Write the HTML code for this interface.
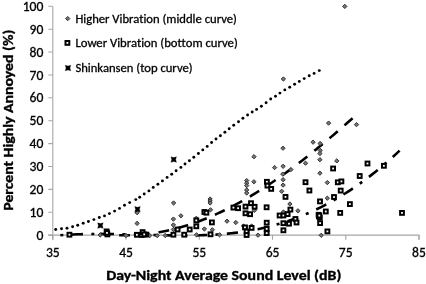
<!DOCTYPE html>
<html><head><meta charset="utf-8"><style>
html,body{margin:0;padding:0;background:#fff;}
svg{display:block;filter:blur(0.3px);}
text{font-family:Carlito, 'Liberation Sans', sans-serif;fill:#000;font-variant-ligatures:none;font-kerning:normal;}
.t{stroke:#000;stroke-width:0.3;}
.tb{stroke:#000;stroke-width:0.35;}
.d{fill:#757575;stroke:#333;stroke-width:1.0;}
.s{fill:#fff;stroke:#000;stroke-width:2.0;}
.k{fill:#000;stroke:#000;stroke-width:0.3;stroke-linejoin:round;}
.k2{fill:none;stroke:#000;stroke-width:1.0;}
</style></head><body>
<svg width="426" height="284" viewBox="0 0 426 284">
<path d="M52.8 6.3 V239.8 M48.3 235.1 H419 V239.8" stroke="#a6a6a6" stroke-width="1.1" fill="none"/>
<path d="M48.3 235.10 H52.8 M48.3 212.22 H52.8 M48.3 189.34 H52.8 M48.3 166.46 H52.8 M48.3 143.58 H52.8 M48.3 120.70 H52.8 M48.3 97.82 H52.8 M48.3 74.94 H52.8 M48.3 52.06 H52.8 M48.3 29.18 H52.8 M48.3 6.30 H52.8 M52.80 235.1 V239.8 M126.04 235.1 V239.8 M199.28 235.1 V239.8 M272.52 235.1 V239.8 M345.76 235.1 V239.8 M419.00 235.1 V239.8" stroke="#a6a6a6" stroke-width="1.1" fill="none"/>
<text class="t" x="43.3" y="239.70" text-anchor="end" font-size="13.6" textLength="6.89" lengthAdjust="spacingAndGlyphs">0</text>
<text class="t" x="43.3" y="216.82" text-anchor="end" font-size="13.6" textLength="13.78" lengthAdjust="spacingAndGlyphs">10</text>
<text class="t" x="43.3" y="193.94" text-anchor="end" font-size="13.6" textLength="13.78" lengthAdjust="spacingAndGlyphs">20</text>
<text class="t" x="43.3" y="171.06" text-anchor="end" font-size="13.6" textLength="13.78" lengthAdjust="spacingAndGlyphs">30</text>
<text class="t" x="43.3" y="148.18" text-anchor="end" font-size="13.6" textLength="13.78" lengthAdjust="spacingAndGlyphs">40</text>
<text class="t" x="43.3" y="125.30" text-anchor="end" font-size="13.6" textLength="13.78" lengthAdjust="spacingAndGlyphs">50</text>
<text class="t" x="43.3" y="102.42" text-anchor="end" font-size="13.6" textLength="13.78" lengthAdjust="spacingAndGlyphs">60</text>
<text class="t" x="43.3" y="79.54" text-anchor="end" font-size="13.6" textLength="13.78" lengthAdjust="spacingAndGlyphs">70</text>
<text class="t" x="43.3" y="56.66" text-anchor="end" font-size="13.6" textLength="13.78" lengthAdjust="spacingAndGlyphs">80</text>
<text class="t" x="43.3" y="33.78" text-anchor="end" font-size="13.6" textLength="13.78" lengthAdjust="spacingAndGlyphs">90</text>
<text class="t" x="43.3" y="10.90" text-anchor="end" font-size="13.6" textLength="20.67" lengthAdjust="spacingAndGlyphs">100</text>
<text class="t" x="52.80" y="256.6" text-anchor="middle" font-size="13.6" textLength="13.78" lengthAdjust="spacingAndGlyphs">35</text>
<text class="t" x="126.04" y="256.6" text-anchor="middle" font-size="13.6" textLength="13.78" lengthAdjust="spacingAndGlyphs">45</text>
<text class="t" x="199.28" y="256.6" text-anchor="middle" font-size="13.6" textLength="13.78" lengthAdjust="spacingAndGlyphs">55</text>
<text class="t" x="272.52" y="256.6" text-anchor="middle" font-size="13.6" textLength="13.78" lengthAdjust="spacingAndGlyphs">65</text>
<text class="t" x="345.76" y="256.6" text-anchor="middle" font-size="13.6" textLength="13.78" lengthAdjust="spacingAndGlyphs">75</text>
<text class="t" x="419.00" y="256.6" text-anchor="middle" font-size="13.6" textLength="13.78" lengthAdjust="spacingAndGlyphs">85</text>
<text class="tb" x="106.2" y="280.3" font-size="14.8" font-weight="bold" textLength="235.2" lengthAdjust="spacingAndGlyphs">Day-Night Average Sound Level (dB)</text>
<text class="tb" transform="translate(12.5 210.7) rotate(-90)" x="0" y="0" font-size="14.8" font-weight="bold" textLength="181.0" lengthAdjust="spacingAndGlyphs">Percent Highly Annoyed (%)</text>
<text class="t" x="75.4" y="22.7" font-size="12.6" textLength="161.5" lengthAdjust="spacingAndGlyphs">Higher Vibration (middle curve)</text>
<text class="t" x="75.4" y="47.0" font-size="12.6" textLength="162.4" lengthAdjust="spacingAndGlyphs">Lower Vibration (bottom curve)</text>
<text class="t" x="75.4" y="72.1" font-size="12.6" textLength="117.2" lengthAdjust="spacingAndGlyphs">Shinkansen (top curve)</text>
<path d="M67.70 16.45 L69.85 18.60 L67.70 20.75 L65.55 18.60Z" class="d"/>
<rect x="65.50" y="41.00" width="3.8" height="3.8" class="s"/>
<path d="M65.25 65.25 L68.00 66.02 L70.75 65.25 L69.98 68.00 L70.75 70.75 L68.00 69.98 L65.25 70.75 L66.02 68.00Z" class="k"/>
<g fill="#000"><circle cx="55.7" cy="229.5" r="1.45"/><circle cx="61.5" cy="228.7" r="1.45"/><circle cx="67.0" cy="228.2" r="1.45"/><circle cx="72.6" cy="226.8" r="1.45"/><circle cx="77.7" cy="225.2" r="1.45"/><circle cx="83.2" cy="223.2" r="1.45"/><circle cx="88.4" cy="221.5" r="1.45"/><circle cx="93.9" cy="219.6" r="1.45"/><circle cx="99.3" cy="217.5" r="1.45"/><circle cx="104.5" cy="215.9" r="1.45"/><circle cx="109.4" cy="213.6" r="1.45"/><circle cx="114.6" cy="211.1" r="1.45"/><circle cx="119.5" cy="208.4" r="1.45"/><circle cx="124.5" cy="205.3" r="1.45"/><circle cx="129.7" cy="202.6" r="1.45"/><circle cx="135.8" cy="199.6" r="1.45"/><circle cx="139.7" cy="197.2" r="1.45"/><circle cx="144.2" cy="194" r="1.45"/><circle cx="148.9" cy="190.9" r="1.45"/><circle cx="153.2" cy="187.4" r="1.45"/><circle cx="157.9" cy="184.2" r="1.45"/><circle cx="162.4" cy="180.9" r="1.45"/><circle cx="167.1" cy="177.4" r="1.45"/><circle cx="171.7" cy="174.2" r="1.45"/><circle cx="176.1" cy="170.8" r="1.45"/><circle cx="180.9" cy="167.4" r="1.45"/><circle cx="185" cy="164" r="1.45"/><circle cx="189.4" cy="160.8" r="1.45"/><circle cx="193.8" cy="157.3" r="1.45"/><circle cx="198.4" cy="153.5" r="1.45"/><circle cx="202.8" cy="149.9" r="1.45"/><circle cx="207.2" cy="146.4" r="1.45"/><circle cx="211.6" cy="142.5" r="1.45"/><circle cx="216" cy="139" r="1.45"/><circle cx="220.4" cy="135.8" r="1.45"/><circle cx="224.9" cy="132.3" r="1.45"/><circle cx="229.2" cy="128.7" r="1.45"/><circle cx="233.7" cy="125.2" r="1.45"/><circle cx="238.5" cy="121.7" r="1.45"/><circle cx="242.9" cy="118.2" r="1.45"/><circle cx="247.6" cy="115" r="1.45"/><circle cx="252.2" cy="112" r="1.45"/><circle cx="256.6" cy="109.4" r="1.45"/><circle cx="261.4" cy="106.2" r="1.45"/><circle cx="266.1" cy="102.7" r="1.45"/><circle cx="270.7" cy="99" r="1.45"/><circle cx="275.5" cy="96.2" r="1.45"/><circle cx="279.9" cy="93.1" r="1.45"/><circle cx="284.8" cy="89.9" r="1.45"/><circle cx="289.7" cy="87.2" r="1.45"/><circle cx="294.6" cy="84.2" r="1.45"/><circle cx="299.3" cy="81.4" r="1.45"/><circle cx="304.2" cy="78.6" r="1.45"/><circle cx="309.2" cy="75.8" r="1.45"/><circle cx="314.1" cy="73.4" r="1.45"/><circle cx="319.3" cy="70.6" r="1.45"/></g>
<path d="M100.20 233.66 L102.77 233.99 L105.34 234.28 L107.91 234.53 L110.48 234.74 L113.05 234.92 L115.62 235.07 L118.19 235.18 L120.76 235.25 L123.32 235.29 L125.89 235.29 L128.46 235.26 L131.03 235.19 L133.60 235.09 L136.17 234.95 L138.74 234.78 L141.31 234.57 L143.88 234.33 L146.45 234.06 L149.02 233.75 L151.59 233.41 L154.16 233.03 L156.73 232.62 L159.30 232.18 L161.87 231.71 L164.44 231.20 L167.01 230.66 L169.57 230.09 L172.14 229.48 L174.71 228.84 L177.28 228.17 L179.85 227.47 L182.42 226.73 L184.99 225.97 L187.56 225.17 L190.13 224.34 L192.70 223.48 L195.27 222.59 L197.84 221.67 L200.41 220.71 L202.98 219.73 L205.55 218.72 L208.12 217.67 L210.69 216.60 L213.25 215.49 L215.82 214.36 L218.39 213.19 L220.96 212.00 L223.53 210.77 L226.10 209.52 L228.67 208.24 L231.24 206.93 L233.81 205.59 L236.38 204.22 L238.95 202.82 L241.52 201.40 L244.09 199.94 L246.66 198.46 L249.23 196.95 L251.80 195.42 L254.37 193.86 L256.93 192.27 L259.50 190.66 L262.07 189.02 L264.64 187.36 L267.21 185.67 L269.78 183.96 L272.35 182.22 L274.92 180.47 L277.49 178.68 L280.06 176.88 L282.63 175.05 L285.20 173.20 L287.77 171.34 L290.34 169.44 L292.91 167.53 L295.48 165.60 L298.05 163.65 L300.62 161.68 L303.18 159.69 L305.75 157.68 L308.32 155.65 L310.89 153.60 L313.46 151.54 L316.03 149.46 L318.60 147.36 L321.17 145.24 L323.74 143.11 L326.31 140.96 L328.88 138.80 L331.45 136.62 L334.02 134.43 L336.59 132.22 L339.16 130.00 L341.73 127.77 L344.30 125.52 L346.86 123.26 L349.43 120.99 L352.00 118.70 L354.57 116.41" stroke="#000" stroke-width="2.6" fill="none" stroke-dasharray="10.80 8.95" stroke-dashoffset="0.72"/>
<path d="M59.50 235.27 L62.94 235.02 L66.37 234.81 L69.81 234.62 L73.24 234.45 L76.68 234.31 L80.11 234.20 L83.55 234.11 L86.98 234.03 L90.42 233.98 L93.86 233.95 L97.29 233.93 L100.73 233.93 L104.16 233.95 L107.60 233.98 L111.03 234.02 L114.47 234.07 L117.91 234.13 L121.34 234.20 L124.78 234.28 L128.21 234.36 L131.65 234.45 L135.08 234.54 L138.52 234.63 L141.95 234.73 L145.39 234.82 L148.83 234.92 L152.26 235.01 L155.70 235.09 L159.13 235.17 L162.57 235.25 L166.00 235.31 L169.44 235.37 L172.87 235.42 L176.31 235.45 L179.75 235.47 L183.18 235.48 L186.62 235.47 L190.05 235.45 L193.49 235.41 L196.92 235.34 L200.36 235.26 L203.79 235.15 L207.23 235.02 L210.67 234.86 L214.10 234.67 L217.54 234.46 L220.97 234.21 L224.41 233.93 L227.84 233.62 L231.28 233.27 L234.72 232.88 L238.15 232.46 L241.59 231.99 L245.02 231.48 L248.46 230.93 L251.89 230.33 L255.33 229.69 L258.76 229.00 L262.20 228.26 L265.64 227.46 L269.07 226.62 L272.51 225.72 L275.94 224.77 L279.38 223.76 L282.81 222.71 L286.25 221.59 L289.68 220.42 L293.12 219.20 L296.56 217.92 L299.99 216.58 L303.43 215.18 L306.86 213.73 L310.30 212.22 L313.73 210.65 L317.17 209.02 L320.60 207.33 L324.04 205.57 L327.48 203.76 L330.91 201.89 L334.35 199.95 L337.78 197.95 L341.22 195.89 L344.65 193.76 L348.09 191.57 L351.53 189.31 L354.96 186.99 L358.40 184.61 L361.83 182.15 L365.27 179.63 L368.70 177.04 L372.14 174.39 L375.57 171.66 L379.01 168.87 L382.45 166.00 L385.88 163.07 L389.32 160.06 L392.75 156.99 L396.19 153.84 L399.62 150.62" stroke="#000" stroke-width="2.6" fill="none" stroke-dasharray="11.20 8.42 3.00 8.42" stroke-dashoffset="18.77"/>
<path d="M344.80 4.25 L346.95 6.40 L344.80 8.55 L342.65 6.40Z" class="d"/>
<path d="M283.40 76.85 L285.55 79.00 L283.40 81.15 L281.25 79.00Z" class="d"/>
<path d="M328.60 120.95 L330.75 123.10 L328.60 125.25 L326.45 123.10Z" class="d"/>
<path d="M356.50 122.45 L358.65 124.60 L356.50 126.75 L354.35 124.60Z" class="d"/>
<path d="M313.10 140.05 L315.25 142.20 L313.10 144.35 L310.95 142.20Z" class="d"/>
<path d="M320.10 141.35 L322.25 143.50 L320.10 145.65 L317.95 143.50Z" class="d"/>
<path d="M283.00 146.05 L285.15 148.20 L283.00 150.35 L280.85 148.20Z" class="d"/>
<path d="M320.20 148.25 L322.35 150.40 L320.20 152.55 L318.05 150.40Z" class="d"/>
<path d="M319.90 151.35 L322.05 153.50 L319.90 155.65 L317.75 153.50Z" class="d"/>
<path d="M254.00 154.55 L256.15 156.70 L254.00 158.85 L251.85 156.70Z" class="d"/>
<path d="M319.90 157.55 L322.05 159.70 L319.90 161.85 L317.75 159.70Z" class="d"/>
<path d="M336.80 158.75 L338.95 160.90 L336.80 163.05 L334.65 160.90Z" class="d"/>
<path d="M305.50 161.05 L307.65 163.20 L305.50 165.35 L303.35 163.20Z" class="d"/>
<path d="M283.10 164.15 L285.25 166.30 L283.10 168.45 L280.95 166.30Z" class="d"/>
<path d="M274.60 165.45 L276.75 167.60 L274.60 169.75 L272.45 167.60Z" class="d"/>
<path d="M290.90 167.45 L293.05 169.60 L290.90 171.75 L288.75 169.60Z" class="d"/>
<path d="M282.80 171.95 L284.95 174.10 L282.80 176.25 L280.65 174.10Z" class="d"/>
<path d="M319.90 171.05 L322.05 173.20 L319.90 175.35 L317.75 173.20Z" class="d"/>
<path d="M283.10 177.55 L285.25 179.70 L283.10 181.85 L280.95 179.70Z" class="d"/>
<path d="M246.70 178.45 L248.85 180.60 L246.70 182.75 L244.55 180.60Z" class="d"/>
<path d="M246.70 181.05 L248.85 183.20 L246.70 185.35 L244.55 183.20Z" class="d"/>
<path d="M246.70 183.45 L248.85 185.60 L246.70 187.75 L244.55 185.60Z" class="d"/>
<path d="M246.70 187.85 L248.85 190.00 L246.70 192.15 L244.55 190.00Z" class="d"/>
<path d="M246.70 190.85 L248.85 193.00 L246.70 195.15 L244.55 193.00Z" class="d"/>
<path d="M253.90 179.65 L256.05 181.80 L253.90 183.95 L251.75 181.80Z" class="d"/>
<path d="M283.10 182.95 L285.25 185.10 L283.10 187.25 L280.95 185.10Z" class="d"/>
<path d="M281.70 189.15 L283.85 191.30 L281.70 193.45 L279.55 191.30Z" class="d"/>
<path d="M327.30 180.45 L329.45 182.60 L327.30 184.75 L325.15 182.60Z" class="d"/>
<path d="M327.30 196.05 L329.45 198.20 L327.30 200.35 L325.15 198.20Z" class="d"/>
<path d="M210.10 196.85 L212.25 199.00 L210.10 201.15 L207.95 199.00Z" class="d"/>
<path d="M210.10 198.85 L212.25 201.00 L210.10 203.15 L207.95 201.00Z" class="d"/>
<path d="M210.10 200.85 L212.25 203.00 L210.10 205.15 L207.95 203.00Z" class="d"/>
<path d="M173.60 200.85 L175.75 203.00 L173.60 205.15 L171.45 203.00Z" class="d"/>
<path d="M289.90 201.85 L292.05 204.00 L289.90 206.15 L287.75 204.00Z" class="d"/>
<path d="M210.50 207.65 L212.65 209.80 L210.50 211.95 L208.35 209.80Z" class="d"/>
<path d="M297.90 208.65 L300.05 210.80 L297.90 212.95 L295.75 210.80Z" class="d"/>
<path d="M283.40 209.85 L285.55 212.00 L283.40 214.15 L281.25 212.00Z" class="d"/>
<path d="M254.30 208.25 L256.45 210.40 L254.30 212.55 L252.15 210.40Z" class="d"/>
<path d="M180.90 213.65 L183.05 215.80 L180.90 217.95 L178.75 215.80Z" class="d"/>
<path d="M196.30 216.15 L198.45 218.30 L196.30 220.45 L194.15 218.30Z" class="d"/>
<path d="M173.40 216.95 L175.55 219.10 L173.40 221.25 L171.25 219.10Z" class="d"/>
<path d="M227.00 219.05 L229.15 221.20 L227.00 223.35 L224.85 221.20Z" class="d"/>
<path d="M235.80 220.35 L237.95 222.50 L235.80 224.65 L233.65 222.50Z" class="d"/>
<path d="M173.40 222.85 L175.55 225.00 L173.40 227.15 L171.25 225.00Z" class="d"/>
<path d="M243.50 223.85 L245.65 226.00 L243.50 228.15 L241.35 226.00Z" class="d"/>
<path d="M251.60 223.85 L253.75 226.00 L251.60 228.15 L249.45 226.00Z" class="d"/>
<path d="M173.40 227.35 L175.55 229.50 L173.40 231.65 L171.25 229.50Z" class="d"/>
<path d="M204.40 226.85 L206.55 229.00 L204.40 231.15 L202.25 229.00Z" class="d"/>
<path d="M212.30 227.65 L214.45 229.80 L212.30 231.95 L210.15 229.80Z" class="d"/>
<path d="M137.10 210.55 L139.25 212.70 L137.10 214.85 L134.95 212.70Z" class="d"/>
<path d="M137.10 221.25 L139.25 223.40 L137.10 225.55 L134.95 223.40Z" class="d"/>
<path d="M100.20 232.85 L102.35 235.00 L100.20 237.15 L98.05 235.00Z" class="d"/>
<path d="M126.00 233.35 L128.15 235.50 L126.00 237.65 L123.85 235.50Z" class="d"/>
<path d="M149.70 233.35 L151.85 235.50 L149.70 237.65 L147.55 235.50Z" class="d"/>
<path d="M157.20 233.45 L159.35 235.60 L157.20 237.75 L155.05 235.60Z" class="d"/>
<path d="M165.20 233.35 L167.35 235.50 L165.20 237.65 L163.05 235.50Z" class="d"/>
<path d="M196.50 232.65 L198.65 234.80 L196.50 236.95 L194.35 234.80Z" class="d"/>
<path d="M219.60 232.65 L221.75 234.80 L219.60 236.95 L217.45 234.80Z" class="d"/>
<path d="M258.00 233.05 L260.15 235.20 L258.00 237.35 L255.85 235.20Z" class="d"/>
<path d="M321.20 233.15 L323.35 235.30 L321.20 237.45 L319.05 235.30Z" class="d"/>
<rect x="67.50" y="232.80" width="3.8" height="3.8" class="s"/>
<rect x="104.70" y="229.50" width="3.8" height="3.8" class="s"/>
<rect x="105.50" y="232.50" width="3.8" height="3.8" class="s"/>
<rect x="105.10" y="231.00" width="3.8" height="3.8" class="s"/>
<rect x="135.00" y="232.90" width="3.8" height="3.8" class="s"/>
<rect x="139.70" y="233.10" width="3.8" height="3.8" class="s"/>
<rect x="140.70" y="230.20" width="3.8" height="3.8" class="s"/>
<rect x="144.30" y="232.70" width="3.8" height="3.8" class="s"/>
<rect x="142.30" y="232.50" width="3.8" height="3.8" class="s"/>
<rect x="171.50" y="232.80" width="3.8" height="3.8" class="s"/>
<rect x="175.70" y="227.60" width="3.8" height="3.8" class="s"/>
<rect x="182.30" y="232.80" width="3.8" height="3.8" class="s"/>
<rect x="187.80" y="227.60" width="3.8" height="3.8" class="s"/>
<rect x="194.40" y="218.50" width="3.8" height="3.8" class="s"/>
<rect x="194.40" y="224.40" width="3.8" height="3.8" class="s"/>
<rect x="202.50" y="210.10" width="3.8" height="3.8" class="s"/>
<rect x="204.50" y="210.80" width="3.8" height="3.8" class="s"/>
<rect x="210.00" y="220.50" width="3.8" height="3.8" class="s"/>
<rect x="208.60" y="232.40" width="3.8" height="3.8" class="s"/>
<rect x="231.50" y="205.70" width="3.8" height="3.8" class="s"/>
<rect x="236.20" y="206.30" width="3.8" height="3.8" class="s"/>
<rect x="243.60" y="204.70" width="3.8" height="3.8" class="s"/>
<rect x="249.10" y="201.30" width="3.8" height="3.8" class="s"/>
<rect x="252.70" y="204.90" width="3.8" height="3.8" class="s"/>
<rect x="243.60" y="211.40" width="3.8" height="3.8" class="s"/>
<rect x="248.20" y="212.30" width="3.8" height="3.8" class="s"/>
<rect x="243.10" y="225.50" width="3.8" height="3.8" class="s"/>
<rect x="249.70" y="226.00" width="3.8" height="3.8" class="s"/>
<rect x="244.70" y="229.60" width="3.8" height="3.8" class="s"/>
<rect x="244.70" y="233.10" width="3.8" height="3.8" class="s"/>
<rect x="264.70" y="205.40" width="3.8" height="3.8" class="s"/>
<rect x="264.80" y="220.80" width="3.8" height="3.8" class="s"/>
<rect x="264.80" y="227.00" width="3.8" height="3.8" class="s"/>
<rect x="264.80" y="231.20" width="3.8" height="3.8" class="s"/>
<rect x="265.00" y="179.90" width="3.8" height="3.8" class="s"/>
<rect x="265.50" y="183.70" width="3.8" height="3.8" class="s"/>
<rect x="269.30" y="187.00" width="3.8" height="3.8" class="s"/>
<rect x="277.70" y="213.60" width="3.8" height="3.8" class="s"/>
<rect x="281.50" y="213.60" width="3.8" height="3.8" class="s"/>
<rect x="285.70" y="212.20" width="3.8" height="3.8" class="s"/>
<rect x="281.50" y="221.30" width="3.8" height="3.8" class="s"/>
<rect x="287.10" y="221.80" width="3.8" height="3.8" class="s"/>
<rect x="293.50" y="217.10" width="3.8" height="3.8" class="s"/>
<rect x="294.60" y="220.60" width="3.8" height="3.8" class="s"/>
<rect x="281.50" y="228.40" width="3.8" height="3.8" class="s"/>
<rect x="283.60" y="195.00" width="3.8" height="3.8" class="s"/>
<rect x="288.50" y="207.70" width="3.8" height="3.8" class="s"/>
<rect x="303.60" y="180.30" width="3.8" height="3.8" class="s"/>
<rect x="307.50" y="188.60" width="3.8" height="3.8" class="s"/>
<rect x="318.10" y="199.50" width="3.8" height="3.8" class="s"/>
<rect x="323.90" y="209.60" width="3.8" height="3.8" class="s"/>
<rect x="316.70" y="212.90" width="3.8" height="3.8" class="s"/>
<rect x="317.90" y="215.70" width="3.8" height="3.8" class="s"/>
<rect x="317.00" y="214.50" width="3.8" height="3.8" class="s"/>
<rect x="317.40" y="213.70" width="3.8" height="3.8" class="s"/>
<rect x="318.20" y="221.20" width="3.8" height="3.8" class="s"/>
<rect x="325.50" y="229.50" width="3.8" height="3.8" class="s"/>
<rect x="331.20" y="166.60" width="3.8" height="3.8" class="s"/>
<rect x="332.10" y="195.10" width="3.8" height="3.8" class="s"/>
<rect x="335.90" y="180.40" width="3.8" height="3.8" class="s"/>
<rect x="339.50" y="179.50" width="3.8" height="3.8" class="s"/>
<rect x="338.80" y="188.70" width="3.8" height="3.8" class="s"/>
<rect x="338.30" y="211.00" width="3.8" height="3.8" class="s"/>
<rect x="348.00" y="202.20" width="3.8" height="3.8" class="s"/>
<rect x="357.80" y="174.10" width="3.8" height="3.8" class="s"/>
<rect x="365.60" y="161.60" width="3.8" height="3.8" class="s"/>
<rect x="382.00" y="163.90" width="3.8" height="3.8" class="s"/>
<rect x="400.10" y="211.00" width="3.8" height="3.8" class="s"/>
<path d="M97.65 222.85 L100.40 223.62 L103.15 222.85 L102.38 225.60 L103.15 228.35 L100.40 227.58 L97.65 228.35 L98.42 225.60Z" class="k"/>
<path d="M134.75 206.55 L137.50 207.32 L140.25 206.55 L139.48 209.30 L140.25 212.05 L137.50 211.28 L134.75 212.05 L135.52 209.30Z" class="k"/>
<path d="M170.95 156.85 L173.70 157.62 L176.45 156.85 L175.68 159.60 L176.45 162.35 L173.70 161.58 L170.95 162.35 L171.72 159.60Z" class="k"/>
</svg>
</body></html>
